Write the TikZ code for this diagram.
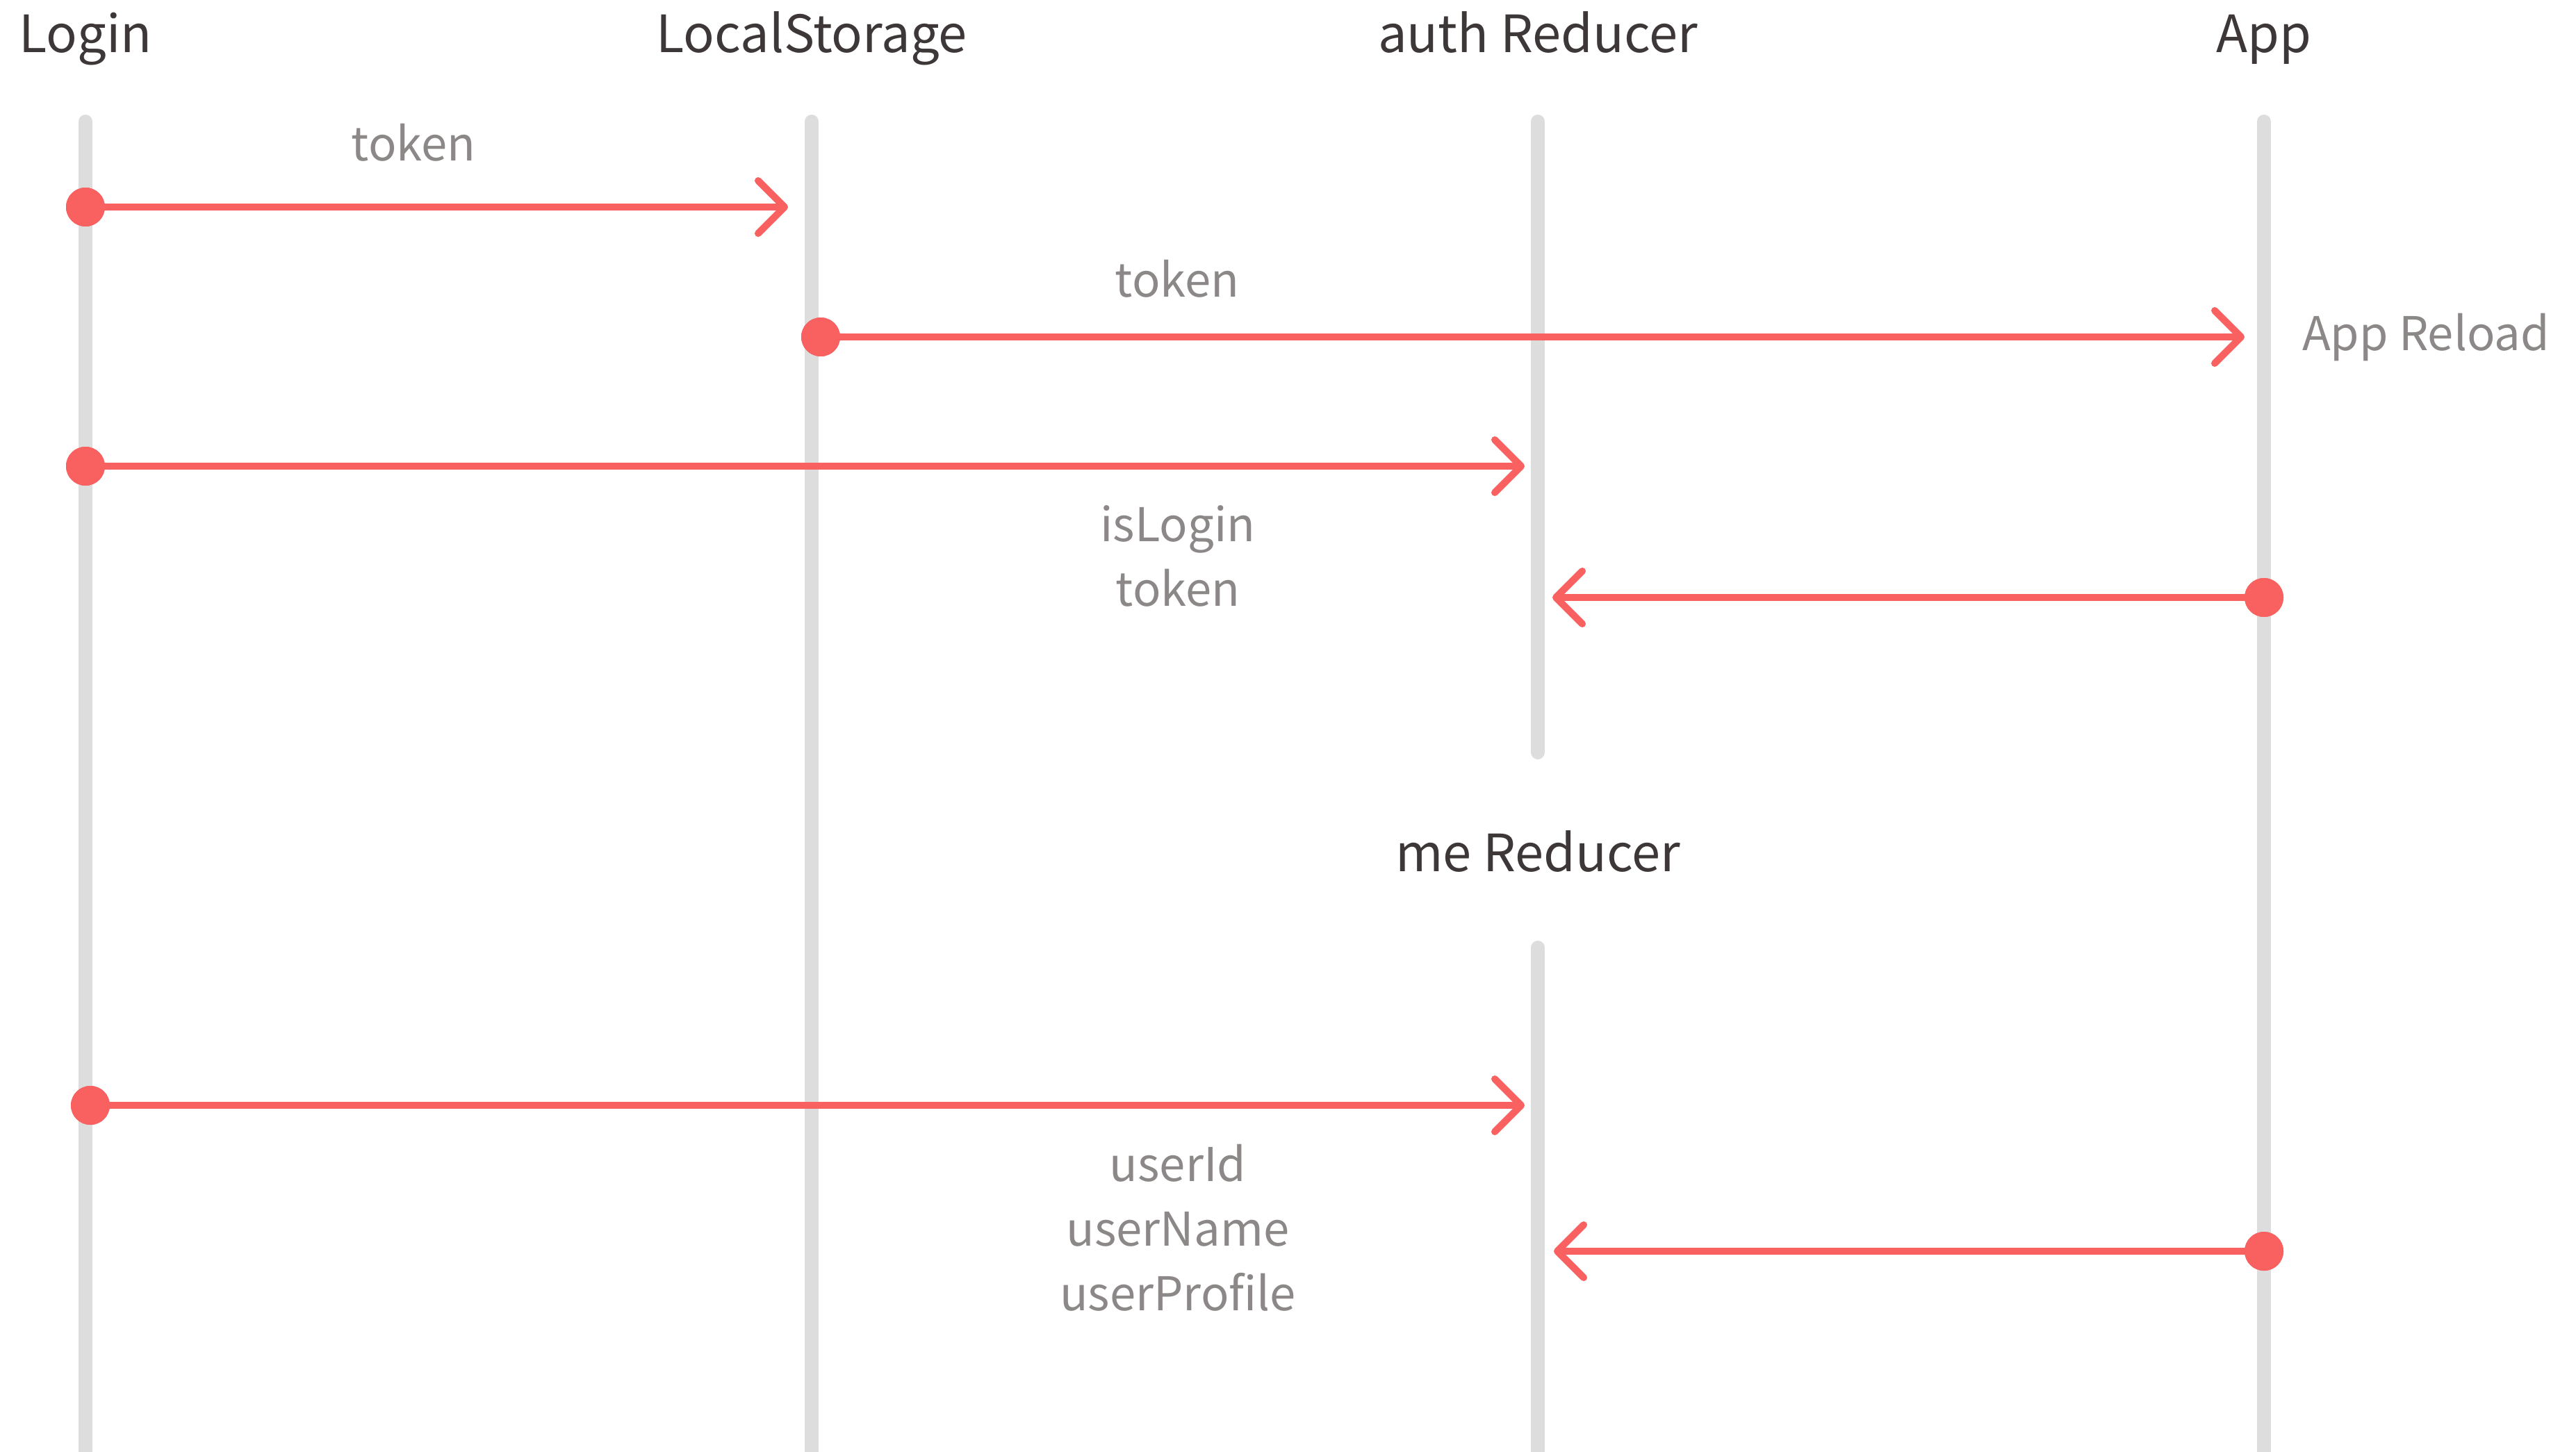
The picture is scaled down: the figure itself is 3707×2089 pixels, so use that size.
\documentclass[tikz,border=0pt]{standalone}
\usepackage{fontspec}
\setmainfont{Noto Sans CJK KR}
\usetikzlibrary{arrows.meta}
\definecolor{lifeC}{HTML}{DDDDDD}
\definecolor{arrC}{HTML}{F96161}
\definecolor{titleC}{HTML}{3D3737}
\definecolor{labelC}{HTML}{8C8887}
\begin{document}
\begin{tikzpicture}[x=1pt,y=-1pt,
 title/.style={font=\fontsize{74}{90}\selectfont, text=titleC, inner sep=0pt, anchor=base},
 lbl/.style={font=\fontsize{67}{93}\selectfont, text=labelC, inner sep=0pt, align=center, anchor=base},
 life/.style={draw=lifeC, line width=20pt, line cap=round},
 msg/.style={draw=arrC, line width=10pt, -{Straight Barb[length=38pt,width=76pt,line width=10pt,round]}},
 dotnode/.style={circle, fill=arrC, minimum size=56pt, inner sep=0pt}]
\useasboundingbox (0,0) rectangle (3707,2089);
\clip (0,0) rectangle (3707,2089);
% titles
\node[title] (tLogin) at (123,75) {Login};
\node[title] (tLocal) at (1168,75) {LocalStorage};
\node[title] (tAuth) at (2213,75) {auth Reducer};
\node[title] (tApp) at (3258,75) {App};
\node[title] (tMe) at (2213,1254) {me Reducer};
% lifeline coordinates
\coordinate (lLoginT) at (123,175);  \coordinate (lLoginB) at (123,2100);
\coordinate (lLocalT) at (1168,175); \coordinate (lLocalB) at (1168,2100);
\coordinate (lAuthT) at (2213,175);  \coordinate (lAuthB) at (2213,1083);
\coordinate (lMeT) at (2213,1364);   \coordinate (lMeB) at (2213,2100);
\coordinate (lAppT) at (3258,175);   \coordinate (lAppB) at (3258,2100);
\draw[life] (lLoginT) -- (lLoginB);
\draw[life] (lLocalT) -- (lLocalB);
\draw[life] (lAuthT) -- (lAuthB);
\draw[life] (lMeT) -- (lMeB);
\draw[life] (lAppT) -- (lAppB);
% message start dots
\node[dotnode] (d1) at (123,298) {};
\node[dotnode] (d2) at (1181,485) {};
\node[dotnode] (d3) at (123,671) {};
\node[dotnode] (d4) at (3258,860) {};
\node[dotnode] (d5) at (130,1591) {};
\node[dotnode] (d6) at (3258,1801) {};
% message ends
\coordinate (e1) at (1134,298);
\coordinate (e2) at (3230,485);
\coordinate (e3) at (2194,671);
\coordinate (e4) at (2234,860);
\coordinate (e5) at (2194,1591);
\coordinate (e6) at (2236,1801);
\draw[msg] (d1.center) -- (e1);
\draw[msg] (d2.center) -- (e2);
\draw[msg] (d3.center) -- (e3);
\draw[msg] (d4.center) -- (e4);
\draw[msg] (d5.center) -- (e5);
\draw[msg] (d6.center) -- (e6);
% redraw dots on top
\fill[arrC] (d1) circle (28pt);
\fill[arrC] (d2) circle (28pt);
\fill[arrC] (d3) circle (28pt);
\fill[arrC] (d4) circle (28pt);
\fill[arrC] (d5) circle (28pt);
\fill[arrC] (d6) circle (28pt);
% labels
\node[lbl] (m1) at (595,231) {token};
\node[lbl] (m2) at (1694,427) {token};
\node[lbl, anchor=base west] (reload) at (3313,504) {App Reload};
\node[lbl] (m3) at (1695,872) {isLogin\\token};
\node[lbl] (m5) at (1695,1886) {userId\\userName\\userProfile};
\end{tikzpicture}
\end{document}
